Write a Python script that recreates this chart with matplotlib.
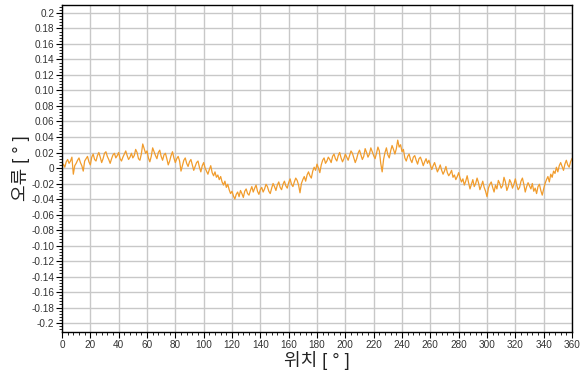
import matplotlib
matplotlib.use("Agg")
import matplotlib.pyplot as plt
from matplotlib.ticker import MultipleLocator, FixedLocator

plt.rcParams['font.family'] = ['Liberation Sans', 'Noto Sans CJK KR', 'DejaVu Sans']

# error values in thousandths of a degree, 1 degree steps from 0 to 360
err_milli = [
    2, 5, 1, 8, 11, 6, 9, 14, -8, 3,
    6, 10, 13, 7, 3, -4, 9, 12, 15, 8,
    4, 14, 18, 11, 9, 16, 20, 14, 7, 12,
    19, 21, 15, 11, 6, 12, 17, 19, 13, 16,
    20, 12, 9, 14, 18, 22, 16, 11, 14, 19,
    13, 16, 24, 20, 12, 10, 18, 31, 25, 19,
    22, 13, 8, 15, 26, 21, 16, 12, 20, 23,
    15, 10, 17, 19, 12, 4, 9, 16, 21, 13,
    7, 12, 15, 9, -4, 3, 10, 13, 6, 2,
    8, 11, 4, -3, 2, 7, 9, 1, -5, 3,
    7, 0, -4, -8, -2, 3, -6, -10, -5, -12,
    -9, -15, -11, -18, -22, -17, -25, -21, -28, -33,
    -30, -36, -40, -34, -31, -37, -29, -33, -38, -30,
    -27, -33, -35, -29, -24, -31, -26, -22, -30, -34,
    -28, -25, -31, -27, -21, -24, -30, -33, -26, -20,
    -24, -29, -22, -18, -25, -28, -21, -17, -23, -26,
    -19, -14, -21, -24, -18, -13, -16, -22, -32, -20,
    -15, -11, -17, -9, -5, -10, -13, -4, 1, -3,
    5, 0, -6, 4, 10, 13, 6, 9, 14, 11,
    7, 15, 18, 12, 9, 16, 20, 13, 8, 12,
    18, 14, 10, 16, 22, 19, 13, 7, 12, 19,
    23, 17, 11, 15, 25, 20, 14, 18, 26, 21,
    16, 12, 19, 27, 22, 6, -5, 11, 20, 26,
    17, 13, 22, 29, 24, 18, 25, 36, 27, 30,
    21, 24, 13, 9, 15, 18, 11, 7, 14, 16,
    10, 5, 12, 14, 9, 3, 8, 12, 6, 10,
    4, -2, 3, 7, 1, -5, -1, 4, -3, -8,
    -4, 2, -6, -10, -7, -3, -12, -9, -15, -11,
    -6, -13, -18, -14, -22, -17, -10, -19, -27, -21,
    -15, -24, -20, -13, -19, -28, -23, -17, -25, -30,
    -37, -26, -21, -18, -25, -31, -22, -27, -16, -20,
    -26, -23, -12, -18, -29, -24, -15, -19, -26, -21,
    -14, -22, -28, -25, -17, -13, -21, -31, -24, -19,
    -23, -27, -20, -30, -26, -33, -24, -21, -29, -35,
    -27, -20, -15, -11, -18, -8, -12, -4, -7, 1,
    -5, 3, 7, 2, -3, 5, 10, 4, 1, 8,
    12,
]
position = list(range(0, 361))
error = [v / 1000.0 for v in err_milli]

x_ticks = list(range(0, 361, 20))
y_ticks = [0.2, 0.18, 0.16, 0.14, 0.12, 0.10, 0.08, 0.06, 0.04, 0.02, 0,
           -0.02, -0.04, -0.06, -0.08, -0.10, -0.12, -0.14, -0.16, -0.18, -0.2]
y_tick_labels = ["0.2", "0.18", "0.16", "0.14", "0.12", "0.10", "0.08", "0.06", "0.04", "0.02", "0",
                 "-0.02", "-0.04", "-0.06", "-0.08", "-0.10", "-0.12", "-0.14", "-0.16", "-0.18", "-0.2"]

fig = plt.figure(figsize=(5.81, 3.74), dpi=100)
ax = fig.add_axes([0.1067, 0.1123, 0.8778, 0.8743])

ax.plot(position, error, color='#f19c2c', linewidth=0.9)

ax.set_xlim(0, 360)
ax.set_ylim(-0.2116, 0.2103)

ax.xaxis.set_major_locator(FixedLocator(x_ticks))
ax.xaxis.set_minor_locator(MultipleLocator(4))
ax.yaxis.set_major_locator(FixedLocator(y_ticks))
ax.set_yticklabels(y_tick_labels)
ax.yaxis.set_minor_locator(MultipleLocator(0.004))

ax.tick_params(axis='both', which='major', direction='out', length=4, width=0.8,
               labelsize=7.2, colors='black', labelcolor='#333333', pad=1.5)
ax.tick_params(axis='both', which='minor', direction='out', length=2, width=0.6, colors='black')

ax.grid(True, which='major', color='#c8c8c8', linewidth=1.0)
ax.set_axisbelow(True)

for s in ax.spines.values():
    s.set_color('black')
    s.set_linewidth(1.0)

ax.set_xlabel("위치 [ ° ]", fontsize=13, color='#222222', labelpad=1)
ax.set_ylabel("오류 [ ° ]", fontsize=13, color='#222222', labelpad=1)

fig.savefig("out.png", dpi=100)
